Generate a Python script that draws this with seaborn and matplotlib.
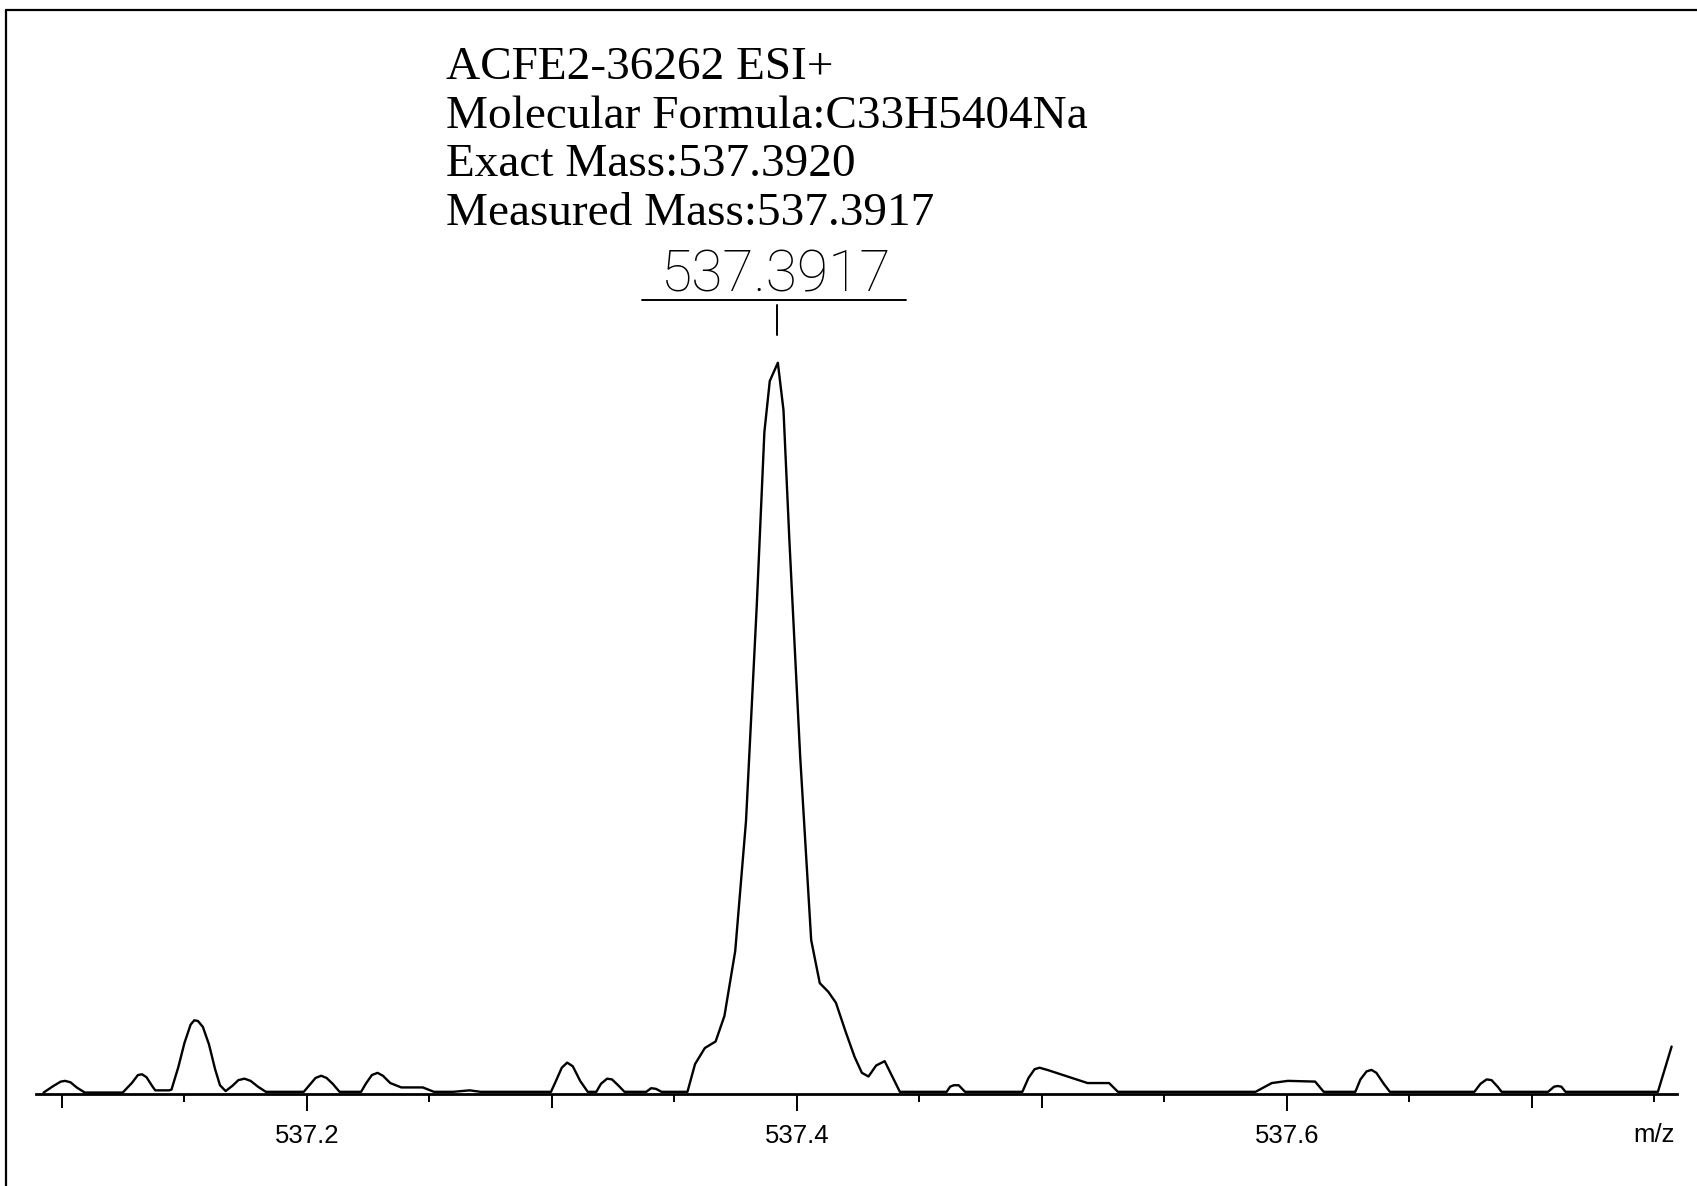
import numpy as np
import pandas as pd
import matplotlib
matplotlib.use("Agg")
import matplotlib.pyplot as plt
from matplotlib import font_manager
from matplotlib.lines import Line2D
from matplotlib.ticker import MultipleLocator, FuncFormatter
import seaborn as sns

# spectrum trace (m/z, relative intensity %)
mz = [537.0925, 537.0965, 537.0995, 537.1013, 537.1035, 537.1060, 537.1093,
      537.1248, 537.1285, 537.1310, 537.1327, 537.1345, 537.1370, 537.1381,
      537.1438, 537.1447, 537.1475, 537.1500, 537.1525, 537.1540, 537.1555,
      537.1575, 537.1600, 537.1625, 537.1645, 537.1668, 537.1695, 537.1720,
      537.1745, 537.1770, 537.1800, 537.1832, 537.1987, 537.2010, 537.2035,
      537.2058, 537.2080, 537.2105, 537.2133, 537.2221, 537.2240, 537.2265,
      537.2288, 537.2310, 537.2340, 537.2385, 537.2473, 537.2518, 537.2597,
      537.2664, 537.2708, 537.2996, 537.3015, 537.3040, 537.3062, 537.3085,
      537.3115, 537.3146, 537.3181, 537.3200, 537.3225, 537.3245, 537.3270,
      537.3296, 537.3385, 537.3405, 537.3425, 537.3447, 537.3553, 537.3584,
      537.3624, 537.3668, 537.3704, 537.3748, 537.3792, 537.3836, 537.3867,
      537.3889, 537.3922, 537.3945, 537.3969, 537.4013, 537.4058, 537.4093,
      537.4128, 537.4159, 537.4199, 537.4235, 537.4265, 537.4292, 537.4323,
      537.4358, 537.4389, 537.4420, 537.4611, 537.4625, 537.4640, 537.4660,
      537.4686, 537.4920, 537.4945, 537.4970, 537.4990, 537.5022, 537.5186,
      537.5274, 537.5310, 537.5872, 537.5938, 537.6004, 537.6115, 537.6150,
      537.6279, 537.6300, 537.6325, 537.6345, 537.6365, 537.6395, 537.6420,
      537.6765, 537.6790, 537.6815, 537.6835, 537.6860, 537.6876, 537.7066,
      537.7090, 537.7105, 537.7120, 537.7137, 537.7514, 537.7570]
intensity = [0.0, 0.9, 1.5, 1.6, 1.4, 0.7, 0.0,
             0.0, 1.3, 2.4, 2.5, 2.1, 0.8, 0.3,
             0.3, 0.4, 3.5, 6.8, 9.3, 9.9, 9.8,
             9.0, 6.6, 3.2, 1.0, 0.2, 0.9, 1.7,
             1.9, 1.6, 0.8, 0.1, 0.1, 1.0, 2.0,
             2.3, 2.0, 1.2, 0.1, 0.1, 1.2, 2.4,
             2.7, 2.3, 1.3, 0.7, 0.7, 0.1, 0.1,
             0.3, 0.1, 0.1, 1.5, 3.4, 4.1, 3.6,
             1.6, 0.1, 0.1, 1.2, 1.9, 1.8, 1.0,
             0.1, 0.1, 0.6, 0.5, 0.1, 0.1, 3.9,
             6.1, 7.0, 10.5, 19.4, 37.2, 66.8, 90.5,
             97.5, 100.0, 93.5, 75.7, 46.1, 20.9, 15.0,
             13.8, 12.3, 8.3, 4.9, 2.7, 2.2, 3.7,
             4.3, 2.2, 0.1, 0.1, 0.8, 1.0, 1.0,
             0.1, 0.1, 2.0, 3.2, 3.4, 3.1, 1.3,
             1.3, 0.1, 0.1, 1.3, 1.6, 1.5, 0.1,
             0.1, 1.8, 2.9, 3.1, 2.7, 1.2, 0.1,
             0.1, 1.2, 1.8, 1.7, 0.8, 0.1, 0.1,
             0.8, 0.9, 0.8, 0.1, 0.1, 6.3]

header_lines = ["ACFE2-36262 ESI+",
                "Molecular Formula:C33H5404Na",
                "Exact Mass:537.3920",
                "Measured Mass:537.3917"]
peak_mz = 537.3917
peak_label = "537.3917"
xlim = (537.0894, 537.7592)
axis_label = "m/z"

df = pd.DataFrame({"mz": mz, "intensity": intensity})

sns.set_style("white")
installed = {f.name for f in font_manager.fontManager.ttflist}
sans = "Liberation Sans" if "Liberation Sans" in installed else "DejaVu Sans"
serif = "Liberation Serif" if "Liberation Serif" in installed else "DejaVu Serif"
label_font = "Roboto" if "Roboto" in installed else sans
plt.rcParams["font.family"] = [sans, "DejaVu Sans"]

W, H = 1697, 1186
fig = plt.figure(figsize=(W / 100, H / 100), dpi=100)
ax = fig.add_axes([36 / W, (H - 1094) / H, 1641 / W, 1083 / H])

sns.lineplot(data=df, x="mz", y="intensity", color="black", lw=1.7, ax=ax)

ax.set_xlim(*xlim)
ax.set_ylim(-0.2, 148.2)
ax.set_xlabel("")
ax.set_ylabel("")
ax.set_yticks([])
for s in ["left", "top", "right"]:
    ax.spines[s].set_visible(False)
ax.spines["bottom"].set_linewidth(2)
ax.spines["bottom"].set_color("black")

ax.xaxis.set_major_locator(MultipleLocator(0.1))
ax.xaxis.set_minor_locator(MultipleLocator(0.05))
ax.xaxis.set_major_formatter(
    FuncFormatter(lambda v, p: f"{v:.1f}" if round(v * 10) % 2 == 0 else ""))
ax.tick_params(axis="x", which="major", bottom=True, direction="out",
               length=10.4, width=1.4, pad=11, labelsize=18.5, colors="black")
ax.tick_params(axis="x", which="minor", bottom=True, direction="out",
               length=6, width=1.4, colors="black")

# labelled ticks are drawn a bit longer
for loc, tick in zip(ax.get_xticks(), ax.xaxis.get_major_ticks()):
    if round(loc * 10) % 2 == 0:
        tick.tick1line.set_markersize(12)

ax.text(537.75, -0.0443, axis_label, transform=ax.get_xaxis_transform(),
        ha="center", va="baseline", fontsize=18.5, color="black")

# peak annotation
ax.plot([peak_mz, peak_mz], [103.8, 107.9], color="black", lw=1.4)
ax.plot([peak_mz - 0.055, peak_mz + 0.053], [108.6, 108.6], color="black", lw=1.4)
ax.text(peak_mz, 109.7, peak_label, ha="center", va="baseline",
        fontsize=41, fontweight="light", family=[label_font, "DejaVu Sans"],
        color="black")

# header block
for i, line in enumerate(header_lines):
    fig.text(446 / W, 1 - (79 + 48.7 * i) / H, line, ha="left", va="baseline",
             fontsize=34, family=[serif, "DejaVu Serif"], color="black")

# scanned page frame (top and left edges)
fig.add_artist(Line2D([6 / W, 1], [1 - 10 / H, 1 - 10 / H],
                      transform=fig.transFigure, color="black", lw=1.6))
fig.add_artist(Line2D([6 / W, 6 / W], [0, 1 - 10 / H],
                      transform=fig.transFigure, color="black", lw=1.6))

fig.savefig("out.png", dpi=100, facecolor="white")
